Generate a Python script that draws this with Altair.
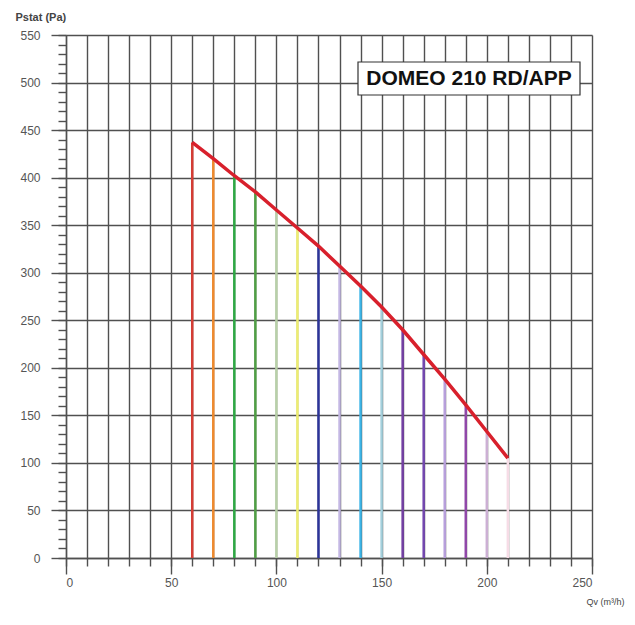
import altair as alt
import pandas as pd

qv = [60, 70, 80, 90, 100, 110, 120, 130, 140, 150, 160, 170, 180, 190, 200, 210]
pstat = [437, 420, 402, 385, 366, 347, 328, 307, 286, 264, 240, 214, 188, 161, 133, 105]
line_colors = ["#d43c34", "#ee8a2e", "#2ea844", "#4f9e44", "#b8d0a8", "#eeee70",
               "#2c3499", "#c4b8e4", "#3cb4e6", "#a4d0dc", "#7440a4", "#7448b0",
               "#b8a0dc", "#9048a8", "#ccb0d4", "#f6dce6"]
title_text = "DOMEO 210 RD/APP"

df = pd.DataFrame({"Qv": qv, "P": pstat, "c": line_colors, "zero": [0] * len(qv)})

xs = alt.Scale(domain=[0, 250], nice=False)
ys = alt.Scale(domain=[0, 550], nice=False)

grid_col = "#505050"

rules = alt.Chart(df).mark_rule(strokeWidth=2.5).encode(
    x=alt.X("Qv:Q", scale=xs, axis=alt.Axis(
        values=list(range(0, 251, 10)), grid=True, gridColor=grid_col, gridWidth=1.4,
        labels=False, title=None, tickSize=8, tickColor=grid_col, tickWidth=1.4,
        domainColor=grid_col, domainWidth=1.4, orient="bottom")),
    y=alt.Y("zero:Q", scale=ys, axis=alt.Axis(
        values=list(range(0, 551, 10)), grid=False, labels=False, title=None,
        tickSize=8, tickColor=grid_col, tickWidth=1.4, domainColor=grid_col,
        domainWidth=1.4, orient="left")),
    y2="P:Q",
    color=alt.Color("c:N", scale=None),
)

curve = alt.Chart(df).mark_line(color="#d8202c", strokeWidth=3.5).encode(
    x=alt.X("Qv:Q", scale=xs, axis=alt.Axis(
        values=list(range(0, 251, 50)), grid=False, tickSize=16, tickColor=grid_col,
        tickWidth=1.4, domain=False, labelColor="#555555", labelFontSize=12,
        labelFont="Liberation Sans", labelPadding=3, orient="bottom",
        title="Qv (m³/h)", titleFontSize=9, titleFontWeight="normal",
        titleColor="#444444", titleFont="Liberation Sans", titleAlign="left",
        titleX=520, titleY=43, titleBaseline="middle")),
    y=alt.Y("P:Q", scale=ys, axis=alt.Axis(
        values=list(range(0, 551, 50)), grid=True, gridColor=grid_col, gridWidth=1.4,
        tickSize=15, tickColor=grid_col, tickWidth=1.4, domain=False,
        labelColor="#555555", labelFontSize=12, labelFont="Liberation Sans",
        labelPadding=11, orient="left",
        title="Pstat (Pa)", titleFontSize=11, titleFontWeight="bold",
        titleColor="#444444", titleFont="Liberation Sans", titleAngle=0,
        titleAlign="left", titleX=-51, titleY=-18, titleBaseline="middle")),
)

box = alt.Chart(pd.DataFrame({"t": [title_text]})).mark_rect(
    fill="white", stroke="#333333", strokeWidth=1.2).encode(
    x=alt.value(292), x2=alt.value(514), y=alt.value(27), y2=alt.value(60))

label = alt.Chart(pd.DataFrame({"t": [title_text]})).mark_text(
    font="Liberation Sans", fontWeight="bold", fontSize=21, color="#111111",
    align="center", baseline="middle").encode(
    x=alt.value(403), y=alt.value(44), text="t:N")

chart = alt.layer(rules, curve, box, label).resolve_axis(
    x="independent", y="independent").properties(
    width=526, height=523,
    autosize=alt.AutoSizeParams(type="none"),
    padding={"left": 58, "top": 27, "right": 35, "bottom": 52},
).configure_view(stroke=None)

chart.save("out.html", embed_options={"renderer": "svg", "actions": False})
